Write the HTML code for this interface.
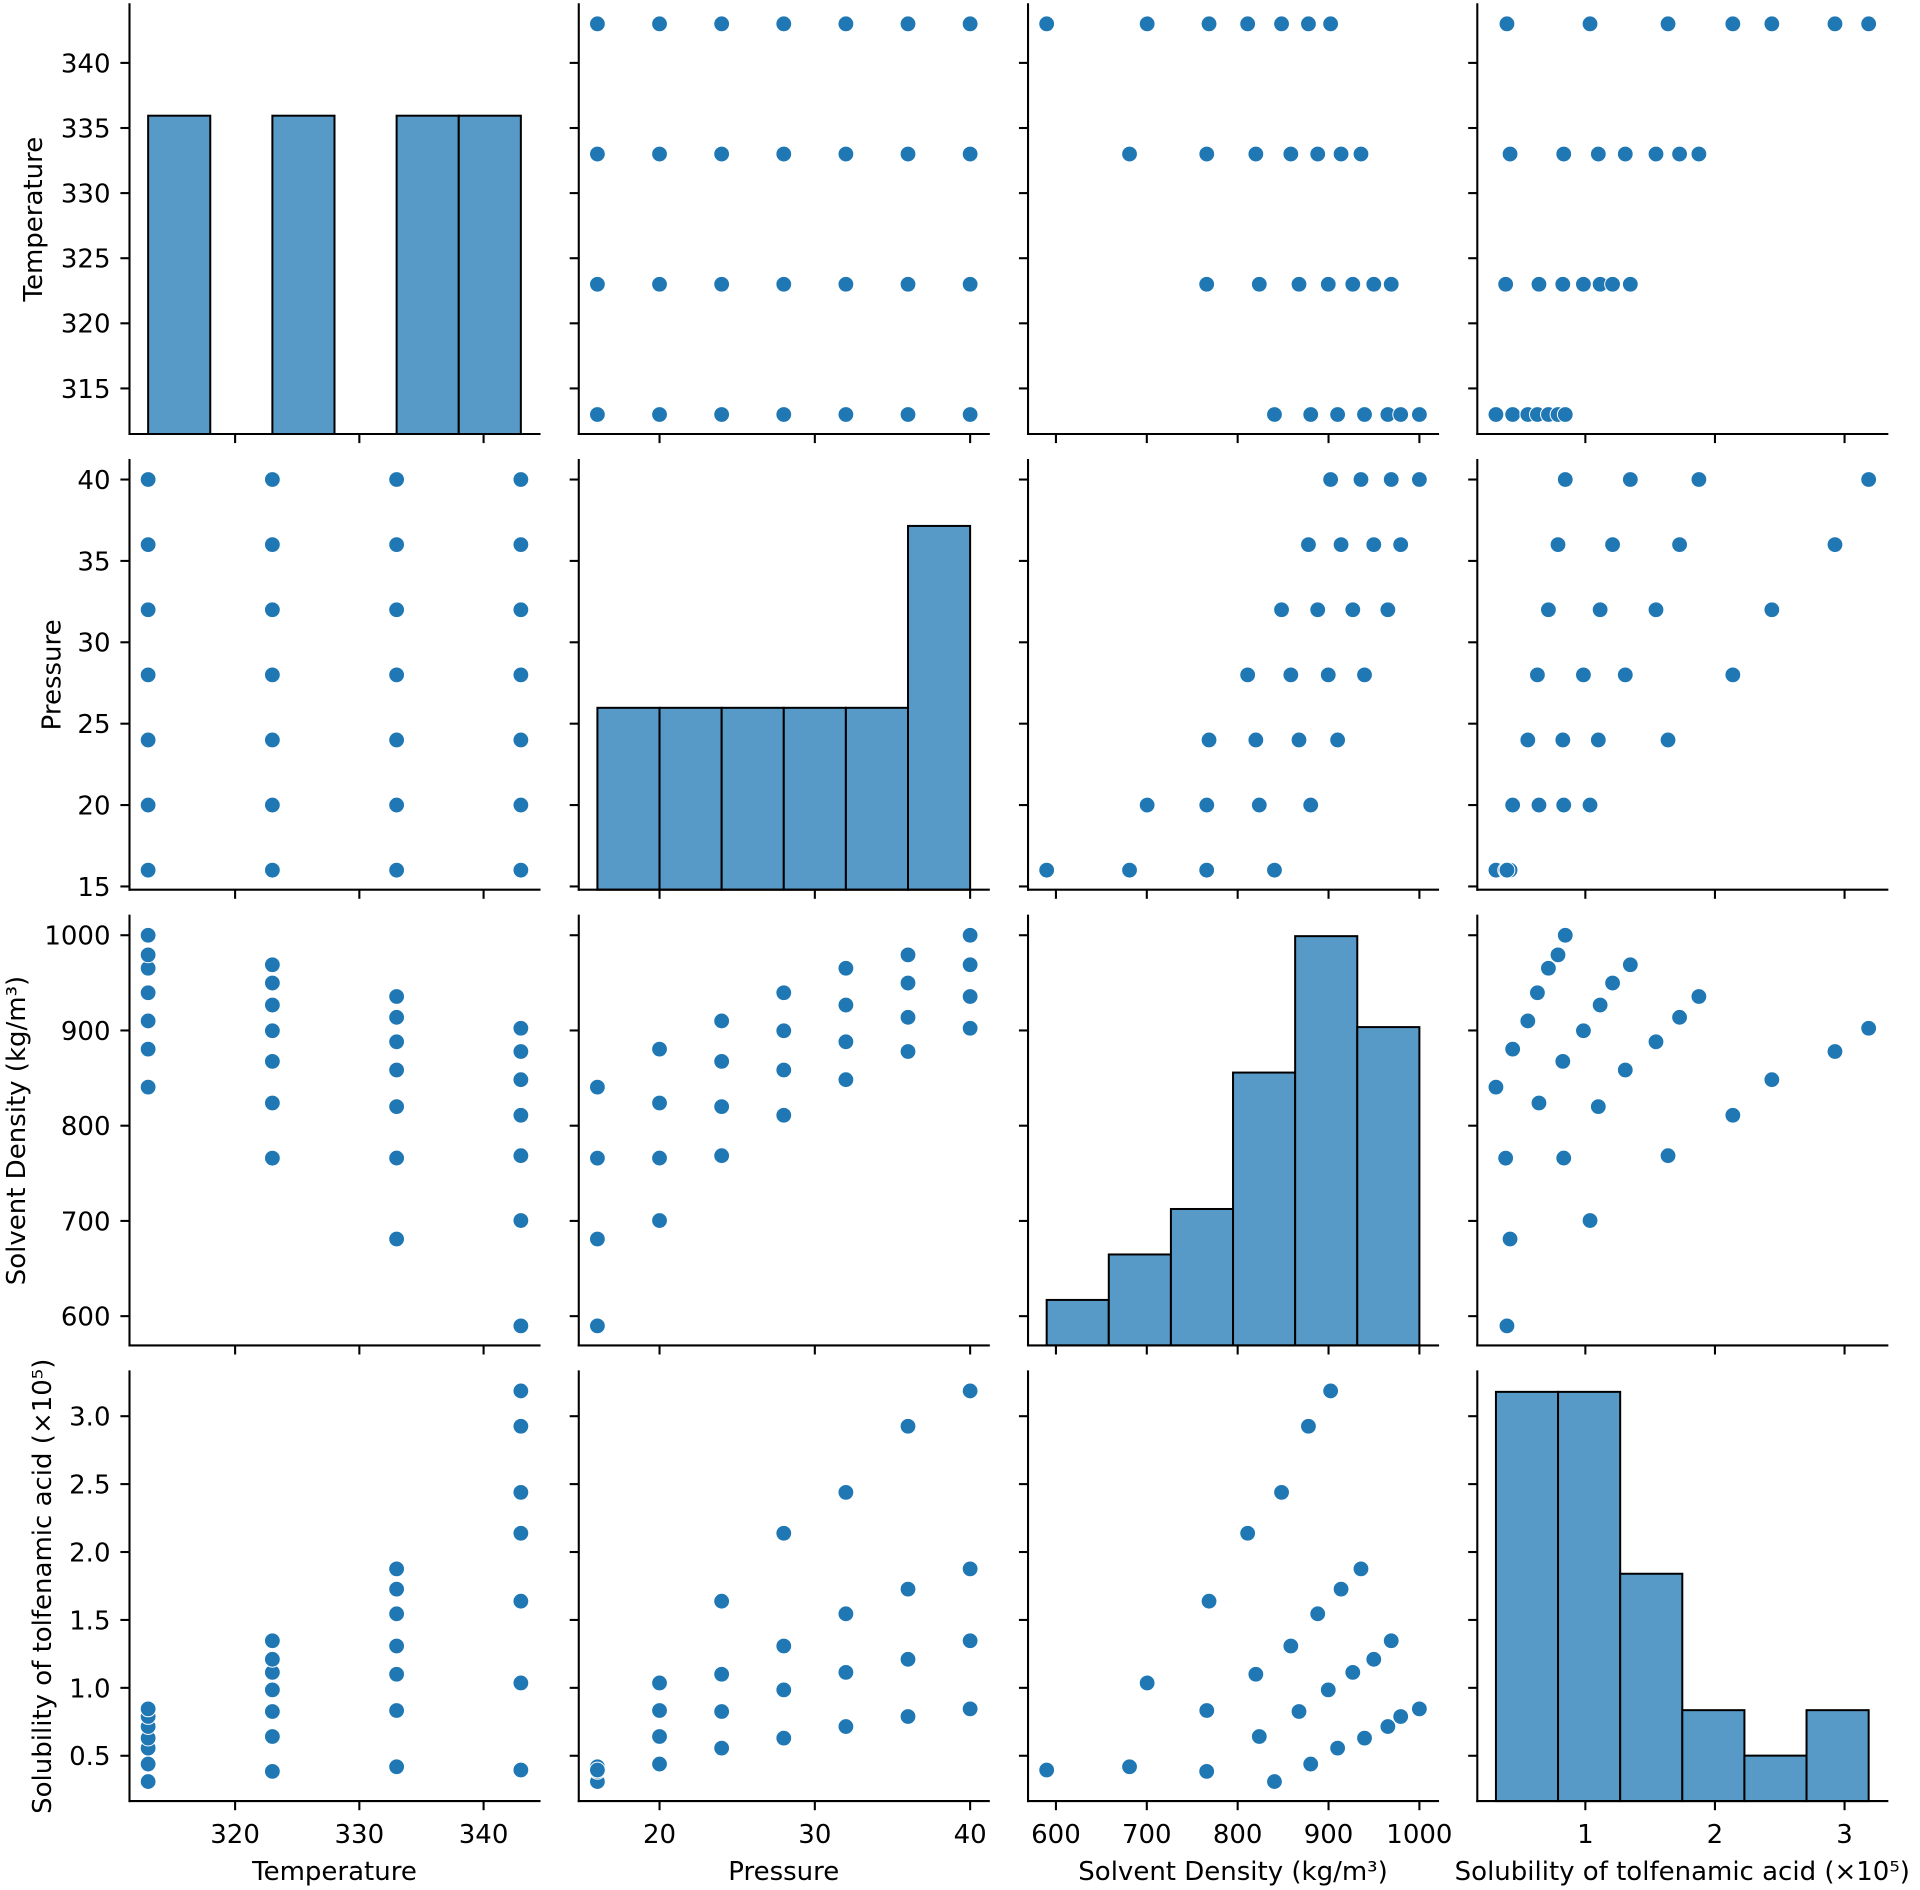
<!DOCTYPE html>
<html>
<head>
<meta charset="utf-8">
<style>
html,body{margin:0;padding:0;background:#fff;}
svg{display:block;}
</style>
</head>
<body>
<svg id="s" xmlns="http://www.w3.org/2000/svg" width="1920" height="1890" viewBox="0 0 1920 1890">
<rect x="0" y="0" width="1920" height="1890" fill="#ffffff"/>
<g id="g"></g>
<g font-family="'DejaVu Sans', 'Liberation Sans', sans-serif" font-size="26" fill="#000">
<!-- y tick labels -->
<g text-anchor="end">
<text x="110.5" y="397.8">315</text>
<text x="110.5" y="332.7">320</text>
<text x="110.5" y="267.6">325</text>
<text x="110.5" y="202.5">330</text>
<text x="110.5" y="137.4">335</text>
<text x="110.5" y="72.3">340</text>

<text x="110.5" y="895.8">15</text>
<text x="110.5" y="814.5">20</text>
<text x="110.5" y="733.1">25</text>
<text x="110.5" y="651.7">30</text>
<text x="110.5" y="570.3">35</text>
<text x="110.5" y="488.9">40</text>

<text x="110.5" y="1325.6">600</text>
<text x="110.5" y="1230.3">700</text>
<text x="110.5" y="1135.1">800</text>
<text x="110.5" y="1039.9">900</text>
<text x="110.5" y="944.6">1000</text>

<text x="110.5" y="1765.2">0.5</text>
<text x="110.5" y="1697.3">1.0</text>
<text x="110.5" y="1629.3">1.5</text>
<text x="110.5" y="1561.4">2.0</text>
<text x="110.5" y="1493.5">2.5</text>
<text x="110.5" y="1425.6">3.0</text>
</g>
<!-- x tick labels -->
<g text-anchor="middle">
<text x="235.1" y="1843">320</text>
<text x="359.35" y="1843">330</text>
<text x="483.6" y="1843">340</text>

<text x="659.53" y="1843">20</text>
<text x="814.83" y="1843">30</text>
<text x="970.13" y="1843">40</text>

<text x="1055.93" y="1843">600</text>
<text x="1146.8" y="1843">700</text>
<text x="1237.66" y="1843">800</text>
<text x="1328.53" y="1843">900</text>
<text x="1419.39" y="1843">1000</text>

<text x="1585.36" y="1843">1</text>
<text x="1714.96" y="1843">2</text>
<text x="1844.56" y="1843">3</text>

<!-- x axis labels -->
<text x="334.5" y="1880">Temperature</text>
<text x="783.77" y="1880">Pressure</text>
<text x="1233.03" y="1880">Solvent Density (kg/m³)</text>
<text x="1682.3" y="1880">Solubility of tolfenamic acid (×10⁵)</text>

<!-- y axis labels -->
<text transform="translate(42,219.15) rotate(-90)">Temperature</text>
<text transform="translate(60.5,674.85) rotate(-90)">Pressure</text>
<text transform="translate(25,1130.55) rotate(-90)">Solvent Density (kg/m³)</text>
<text transform="translate(51,1586.25) rotate(-90)">Solubility of tolfenamic acid (×10⁵)</text>
</g>
</g>
</svg>
<script>
(function(){
var NS="http://www.w3.org/2000/svg";
var g=document.getElementById('g');
function el(n,a){var e=document.createElementNS(NS,n);for(var k in a)e.setAttribute(k,a[k]);g.appendChild(e);return e;}
var Tv=[313,323,333,343],Pv=[16,20,24,28,32,36,40];
var dens=[[840.5,880.4,910,939.6,965.3,979.4,1000],
          [765.9,823.8,867.5,899.7,926.7,949.8,969],
          [681,766,820,858.5,888.1,913.8,935.7],
          [589.8,700.4,768.5,811,848.3,877.9,902.3]];
var sol=[[0.31,0.439,0.556,0.63,0.715,0.789,0.845],
         [0.385,0.642,0.826,0.985,1.114,1.21,1.347],
         [0.419,0.833,1.1,1.308,1.545,1.727,1.876],
         [0.395,1.036,1.638,2.138,2.439,2.926,3.186]];
var D=[[],[],[],[]];
for(var i=0;i<4;i++)for(var j=0;j<7;j++){D[0].push(Tv[i]);D[1].push(Pv[j]);D[2].push(dens[i][j]);D[3].push(sol[i][j]);}
var lim=[[311.5,344.5],[14.8,41.2],[569.29,1020.51],[0.1662,3.3298]];
var L=[129.5,578.77,1028.03,1477.3],W=410,TP=[4.3,460,915.7,1371.4],H=429.7;
var xt=[[320,330,340],[20,30,40],[600,700,800,900,1000],[1,2,3]];
var yt=[[315,320,325,330,335,340],[15,20,25,30,35,40],[600,700,800,900,1000],[0.5,1,1.5,2,2.5,3]];
var hist=[[313,5,[7,0,7,0,7,7]],[16,4,[4,4,4,4,4,8]],[589.8,68.3667,[1,2,3,6,9,7]],[0.31,0.47933,[9,9,5,2,1,2]]];
function X(c,v){return L[c]+W*(v-lim[c][0])/(lim[c][1]-lim[c][0]);}
function Y(r,v){return TP[r]+H*(lim[r][1]-v)/(lim[r][1]-lim[r][0]);}
var lw=2.08, tl=9.1;
for(var r=0;r<4;r++){
  for(var c=0;c<4;c++){
    if(r===c){
      var h=hist[c];
      for(var k=0;k<6;k++){
        var cnt=h[2][k]; if(cnt<=0) continue;
        var x0=X(c,h[0]+k*h[1]), x1=X(c,h[0]+(k+1)*h[1]);
        var hh=cnt/9.45*H;
        el('rect',{x:x0.toFixed(2),y:(TP[r]+H-hh).toFixed(2),width:(x1-x0).toFixed(2),height:hh.toFixed(2),fill:'#5799c7',stroke:'#000',
          'stroke-width':'2','stroke-linejoin':'miter'});
      }
    } else {
      for(var n=0;n<28;n++){
        el('circle',{cx:X(c,D[c][n]).toFixed(2),cy:Y(r,D[r][n]).toFixed(2),r:'7.9',fill:'#1f77b4',stroke:'#ffffff','stroke-width':'1'});
      }
    }
    // spines
    el('line',{x1:L[c],y1:TP[r]-lw/2,x2:L[c],y2:TP[r]+H+lw/2,stroke:'#000','stroke-width':lw});
    el('line',{x1:L[c]-lw/2,y1:TP[r]+H,x2:L[c]+W+lw/2,y2:TP[r]+H,stroke:'#000','stroke-width':lw});
    // y ticks
    for(var a=0;a<yt[r].length;a++){
      var yy=Y(r,yt[r][a]);
      el('line',{x1:L[c]-tl,y1:yy,x2:L[c],y2:yy,stroke:'#000','stroke-width':lw});
    }
    // x ticks
    for(var b=0;b<xt[c].length;b++){
      var xx=X(c,xt[c][b]);
      el('line',{x1:xx,y1:TP[r]+H,x2:xx,y2:TP[r]+H+tl,stroke:'#000','stroke-width':lw});
    }
  }
}
})();
</script>
</body>
</html>
